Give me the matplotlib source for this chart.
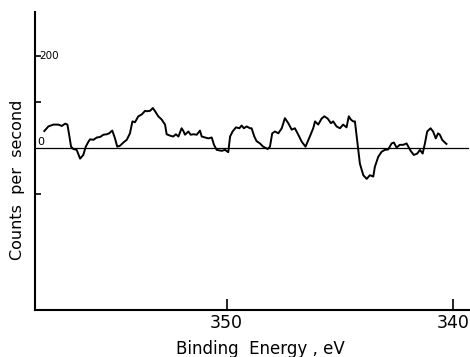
import matplotlib
matplotlib.use('Agg')
import matplotlib.pyplot as plt
import numpy as np

# binding energy (eV) and counts per second
energy = [358.05, 357.87, 357.65, 357.43, 357.28, 357.13, 357.03, 356.94, 356.87, 356.77,
          356.62, 356.47, 356.33, 356.22, 356.10, 356.03, 355.88, 355.73, 355.59, 355.44,
          355.29, 355.19, 355.05, 354.93, 354.83, 354.71, 354.56, 354.41, 354.27, 354.16,
          354.05, 353.90, 353.75, 353.60, 353.53, 353.38, 353.26, 353.16, 353.02, 352.87,
          352.72, 352.65, 352.50, 352.36, 352.24, 352.13, 351.99, 351.91, 351.84, 351.69,
          351.59, 351.47, 351.32, 351.18, 351.10, 350.96, 350.81, 350.66, 350.56, 350.44,
          350.22, 350.07, 349.93, 349.85, 349.74, 349.59, 349.44, 349.34, 349.24, 349.12,
          348.97, 348.90, 348.78, 348.68, 348.53, 348.39, 348.19, 348.09, 347.99, 347.87,
          347.72, 347.57, 347.43, 347.28, 347.13, 346.99, 346.84, 346.69, 346.52, 346.33,
          346.18, 346.10, 345.96, 345.81, 345.69, 345.54, 345.40, 345.30, 345.15, 345.00,
          344.86, 344.71, 344.61, 344.52, 344.42, 344.34, 344.12, 343.97, 343.82, 343.68,
          343.53, 343.46, 343.31, 343.16, 343.02, 342.87, 342.72, 342.62, 342.50, 342.36,
          342.21, 342.06, 341.88, 341.74, 341.59, 341.47, 341.35, 341.25, 341.15, 341.00,
          340.89, 340.77, 340.67, 340.59, 340.49, 340.37, 340.30]
counts = [37, 47, 51, 51, 48, 53, 51, 25, 3, -2,
          -4, -23, -15, 3, 14, 19, 18, 23, 24, 29,
          30, 32, 38, 21, 3, 5, 12, 18, 32, 58,
          56, 69, 73, 81, 80, 81, 87, 80, 69, 62,
          51, 30, 27, 25, 30, 25, 43, 37, 29, 36,
          29, 30, 29, 38, 25, 23, 21, 23, 7, -4,
          -6, -4, -9, 25, 36, 45, 43, 49, 43, 47,
          43, 43, 25, 15, 10, 3, -2, 3, 32, 36,
          32, 43, 65, 54, 40, 43, 29, 14, 3, 25,
          43, 58, 51, 64, 69, 64, 54, 58, 47, 43,
          51, 45, 69, 62, 58, 58, -34, -59, -67, -59,
          -62, -41, -19, -8, -4, -3, 10, 12, 1, 7,
          7, 10, -6, -15, -12, -4, -12, 10, 36, 43,
          36, 21, 32, 29, 18, 12, 9]

xticks = [350, 340]
ytick_pos = [-100, 100, 200]

fig = plt.figure(figsize=(4.7, 3.57), dpi=100)
ax = fig.add_axes([0.0745, 0.1317, 0.9255, 0.835])

ax.plot(energy, counts, color='black', lw=1.4, solid_joinstyle='round')
ax.axhline(0, xmax=0.995, color='black', lw=0.9)

ax.set_xlim(358.46, 339.26)
ax.set_ylim(-352, 296)

for s in ['top', 'right']:
    ax.spines[s].set_visible(False)
ax.spines['left'].set_linewidth(1.5)
ax.spines['bottom'].set_linewidth(1.5)

ax.set_xticks(xticks)
ax.set_xticklabels([str(t) for t in xticks], fontsize=12.5)
ax.tick_params(axis='x', direction='in', length=8, width=1.2, pad=3)
ax.set_yticks(ytick_pos)
ax.set_yticklabels([])
ax.tick_params(axis='y', direction='in', length=4, width=1.2)

ax.text(358.26, 200, '200', fontsize=7.5, va='center', ha='left')
ax.text(358.35, 2, '0', fontsize=8, va='bottom', ha='left')

fig.text(18/470, 1 - 180/357, 'Counts  per  second', rotation=90, fontsize=11.5,
         ha='center', va='center')
fig.text(260/470, 1 - 349/357, 'Binding  Energy , eV', fontsize=12,
         ha='center', va='center')

fig.savefig('out.png', dpi=100)
